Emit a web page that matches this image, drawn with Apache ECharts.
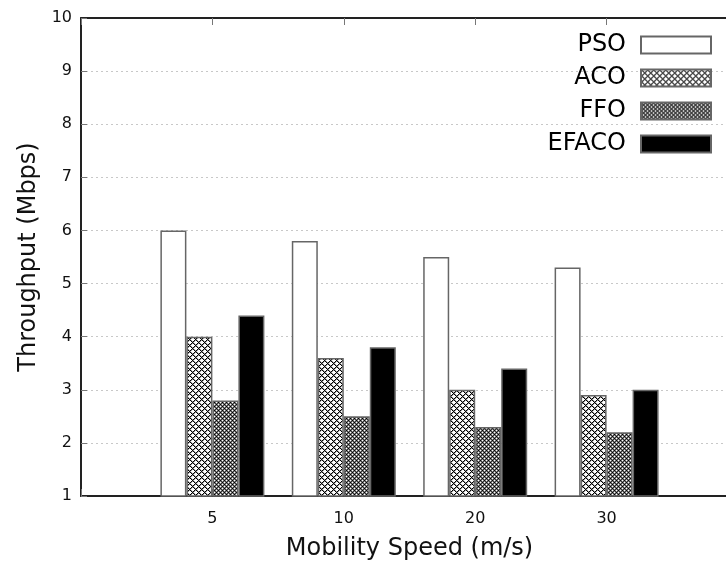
<!DOCTYPE html>
<html>
<head>
<meta charset="utf-8">
<script src="https://cdn.jsdelivr.net/npm/echarts@6/dist/echarts.min.js"></script>
<style>html,body{margin:0;padding:0;background:#fff;}#c{width:726px;height:563px;}</style>
</head>
<body>
<div id="c"></div>
<script>
const categories = ['', '5', '10', '20', '30', ''];
const psoValues = ['-', 6.0, 5.8, 5.5, 5.3, '-'];
const acoValues = ['-', 4.0, 3.6, 3.0, 2.9, '-'];
const ffoValues = ['-', 2.8, 2.5, 2.3, 2.2, '-'];
const efacoValues = ['-', 4.4, 3.8, 3.4, 3.0, '-'];
const seriesNames = ['PSO', 'ACO', 'FFO', 'EFACO'];

function makePattern(size, painter) {
  const cv = document.createElement('canvas');
  cv.width = size; cv.height = size;
  const ctx = cv.getContext('2d');
  painter(ctx, size);
  return cv;
}
const acoPattern = makePattern(6, (ctx, s) => {
  ctx.fillStyle = '#fff'; ctx.fillRect(0, 0, s, s);
  for (let x = 0; x < s; x++) for (let y = 0; y < s; y++) {
    const a = (x + y) % s, b = (x - y + s) % s;
    if (a === 0 || b === 0) { ctx.fillStyle = '#000'; ctx.fillRect(x, y, 1, 1); }
    else if (a === 1 || b === 1) { ctx.fillStyle = '#9a9a9a'; ctx.fillRect(x, y, 1, 1); }
  }
});
const ffoPattern = makePattern(4, (ctx, s) => {
  const rows = [
    ['#000', '#808080', '#fff', '#808080'],
    ['#808080', '#333', '#808080', '#333'],
    ['#fff', '#808080', '#000', '#808080'],
    ['#808080', '#333', '#808080', '#333']
  ];
  for (let y = 0; y < s; y++) for (let x = 0; x < s; x++) {
    ctx.fillStyle = rows[y][x]; ctx.fillRect(x, y, 1, 1);
  }
});

const fills = [
  '#ffffff',
  { image: acoPattern, repeat: 'repeat' },
  { image: ffoPattern, repeat: 'repeat' },
  '#000000'
];
const values = [psoValues, acoValues, ffoValues, efacoValues];
const FONT = 'DejaVu Sans';

const chart = echarts.init(document.getElementById('c'), null, { renderer: 'canvas' });
chart.setOption({
  animation: false,
  textStyle: { fontFamily: FONT },
  grid: { left: 81, top: 18, width: 657, height: 478, containLabel: false, outerBoundsMode: 'none' },
  legend: {
    orient: 'vertical',
    right: 9,
    top: 28,
    align: 'right',
    itemWidth: 70,
    itemHeight: 17,
    itemGap: 9,
    icon: 'rect',
    textStyle: { fontFamily: FONT, fontSize: 24, lineHeight: 24, color: '#000', padding: [0, 10, 0, 0] },
    data: seriesNames
  },
  xAxis: [{
    type: 'category',
    data: categories,
    boundaryGap: false,
    position: 'bottom',
    axisLine: { lineStyle: { color: '#222', width: 2 } },
    axisTick: { show: true, inside: true, length: 7, lineStyle: { color: '#777' } },
    axisLabel: { fontSize: 16, color: '#111', margin: 15, fontFamily: FONT },
    splitLine: { show: false },
    name: 'Mobility Speed (m/s)',
    nameLocation: 'middle',
    nameGap: 41,
    nameTextStyle: { fontSize: 24, color: '#111', fontFamily: FONT }
  }, {
    type: 'category',
    data: categories,
    boundaryGap: false,
    position: 'top',
    axisLine: { lineStyle: { color: '#222', width: 2 } },
    axisTick: { show: true, inside: true, length: 7, lineStyle: { color: '#777' } },
    axisLabel: { show: false }
  }],
  yAxis: {
    type: 'value',
    min: 1, max: 10, interval: 1,
    axisLine: { show: true, lineStyle: { color: '#222', width: 2 } },
    axisTick: { show: true, inside: true, length: 6, lineStyle: { color: '#777' } },
    axisLabel: { fontSize: 16, color: '#111', margin: 9, fontFamily: FONT },
    splitLine: { show: true, lineStyle: { color: '#c8c8c8', type: [2, 3], width: 1 } },
    name: 'Throughput (Mbps)',
    nameLocation: 'middle',
    nameGap: 40,
    nameRotate: 90,
    nameTextStyle: { fontSize: 24, color: '#111', fontFamily: FONT }
  },
  series: seriesNames.map((name, i) => ({
    name: name,
    type: 'bar',
    data: values[i],
    barWidth: 26,
    barGap: '0%',
    itemStyle: { color: fills[i], borderColor: '#666', borderWidth: 1.5 },
    emphasis: { disabled: true }
  }))
});
</script>
</body>
</html>
